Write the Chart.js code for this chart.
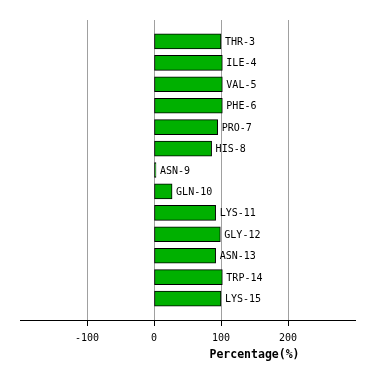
<!DOCTYPE html>
<html lang="en">
<head>
  <meta charset="UTF-8">
  <title>Percentage chart</title>
  <script src="https://cdn.jsdelivr.net/npm/chart.js"></script>
  <style>
    html, body { margin: 0; padding: 0; background: #fff; }
    #wrap { width: 374px; height: 380px; }
  </style>
</head>
<body>
  <div id="wrap"><canvas id="myChart"></canvas></div>

  <script>
    // residues and their percentage values
    const residues = ['THR-3', 'ILE-4', 'VAL-5', 'PHE-6', 'PRO-7', 'HIS-8', 'ASN-9',
                      'GLN-10', 'LYS-11', 'GLY-12', 'ASN-13', 'TRP-14', 'LYS-15'];
    const percentages = [100, 102, 102, 102, 95, 86, 3, 27, 92, 99, 92, 102, 100];
    const xTicks = [-100, 0, 100, 200];
    const xMin = -200, xMax = 300;
    const axisTitle = 'Percentage(%)';

    const mono = '"DejaVu Sans Mono", "Liberation Mono", monospace';

    // draw residue names just right of each bar, and the axis title
    const labelPlugin = {
      id: 'barLabels',
      afterDatasetsDraw(chart) {
        const ctx = chart.ctx;
        const meta = chart.getDatasetMeta(0);
        ctx.save();
        ctx.font = '10px ' + mono;
        ctx.fillStyle = '#000';
        ctx.textBaseline = 'middle';
        ctx.textAlign = 'left';
        meta.data.forEach((bar, i) => {
          ctx.fillText(residues[i], bar.x + 4, bar.y + 1);
        });
        ctx.font = 'bold 11.5px ' + mono;
        ctx.textAlign = 'center';
        const xs = chart.scales.x;
        ctx.fillText(axisTitle, xs.getPixelForValue(150), chart.chartArea.bottom + 35);
        ctx.restore();
      }
    };

    const ctx = document.getElementById('myChart').getContext('2d');
    new Chart(ctx, {
      type: 'bar',
      data: {
        datasets: [{
          data: percentages.map((v, i) => ({ x: v, y: i })),
          backgroundColor: '#00b000',
          borderColor: '#000',
          borderWidth: 1,
          borderSkipped: false,
          barThickness: 15,
        }],
      },
      options: {
        indexAxis: 'y',
        responsive: true,
        maintainAspectRatio: false,
        animation: false,
        layout: { padding: { left: 20, right: 19, top: 20, bottom: 0 } },
        plugins: { legend: { display: false }, tooltip: { enabled: false } },
        scales: {
          y: {
            type: 'linear',
            min: -1,
            max: 13,
            offset: false,
            reverse: true,
            display: false,
          },
          x: {
            type: 'linear',
            min: xMin,
            max: xMax,
            afterBuildTicks: (scale) => {
              scale.ticks = [xMin].concat(xTicks, [xMax]).map(v => ({ value: v }));
            },
            afterFit: (scale) => { scale.height = 60; },
            border: { color: '#000', width: 1 },
            grid: {
              color: (c) => xTicks.includes(c.tick && c.tick.value) ? '#a0a0a0' : 'rgba(0,0,0,0)',
              tickColor: (c) => xTicks.includes(c.tick && c.tick.value) ? '#000' : 'rgba(0,0,0,0)',
              tickLength: 6,
            },
            ticks: {
              padding: 6,
              color: '#000',
              font: { family: mono, size: 10 },
              maxRotation: 0,
              callback: (v) => xTicks.includes(v) ? String(v) : '',
            },
          },
        },
      },
      plugins: [labelPlugin],
    });
  </script>
</body>
</html>
